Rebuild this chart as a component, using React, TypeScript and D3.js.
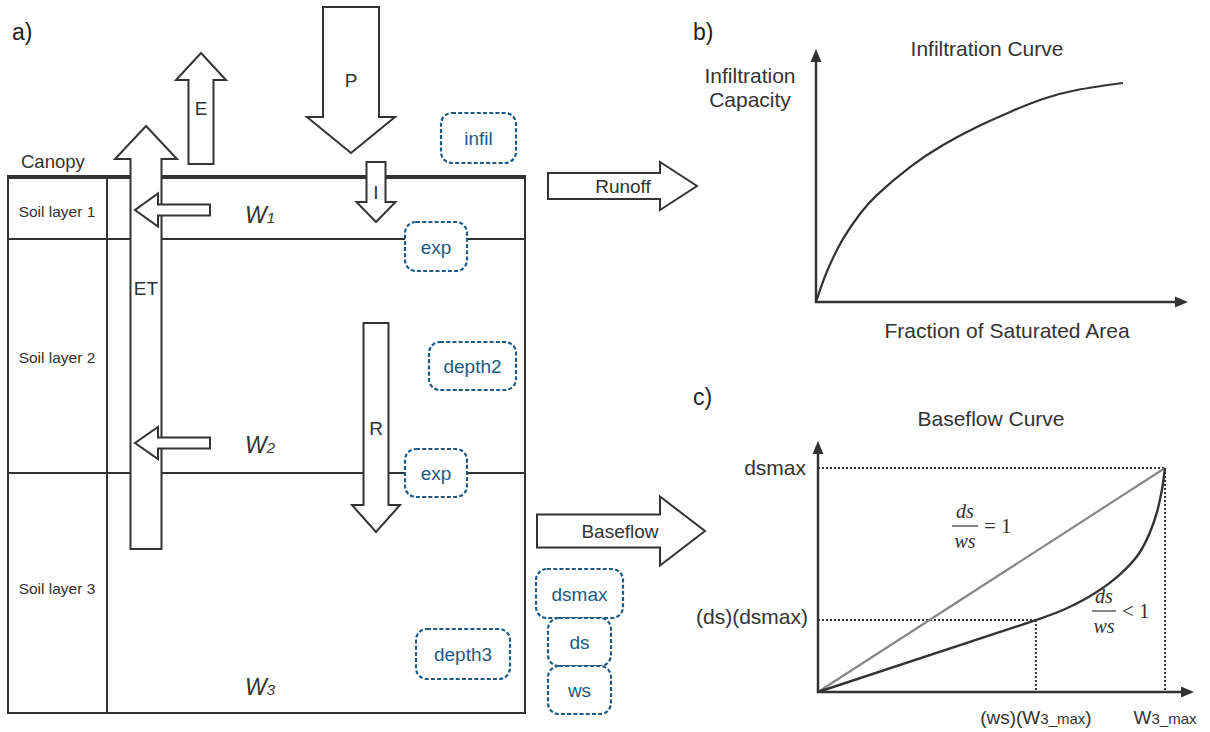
import React from "react";
import * as d3 from "d3";

// ---- Data ----
const soilLayers = ["Soil layer 1", "Soil layer 2", "Soil layer 3"];
const paramBoxes = ["infil", "exp", "depth2", "exp", "dsmax", "ds", "ws", "depth3"];
const fluxLabels = ["E", "ET", "P", "I", "R", "Runoff", "Baseflow"];

// Panel b: infiltration curve (fraction of saturated area vs infiltration capacity, normalised)
const infilFraction = [0, 0.035, 0.088, 0.143, 0.199, 0.306, 0.414, 0.524, 0.632, 0.739, 0.85, 1];
const infilCapacity = [0, 0.137, 0.288, 0.402, 0.489, 0.616, 0.717, 0.799, 0.868, 0.927, 0.968, 1];

// Panel c: baseflow curve (soil moisture W3 / W3_max vs baseflow / dsmax)
const baseflowStorage = [0.628, 0.706, 0.775, 0.841, 0.89, 0.928, 0.957, 0.977, 0.991, 1];
const baseflowRate = [0.321, 0.366, 0.42, 0.487, 0.554, 0.625, 0.714, 0.804, 0.902, 1];
const wsValue = 0.628;
const dsValue = 0.321;
const linearStorage = [0, 1];
const linearRate = [0, 1];

const INK = "#333";
const BLUE = "#1e5a84";
const SANS = "'Liberation Sans', Arial, sans-serif";
const SERIF = "'Liberation Serif', 'Times New Roman', serif";

function blockArrow(x1: number, y1: number, x2: number, y2: number, sw: number, hw: number, hl: number) {
  const len = Math.hypot(x2 - x1, y2 - y1);
  const dx = (x2 - x1) / len, dy = (y2 - y1) / len;
  const nx = -dy, ny = dx;
  const bx = x2 - dx * hl, by = y2 - dy * hl;
  const pts = [
    [x1 + nx * sw / 2, y1 + ny * sw / 2],
    [bx + nx * sw / 2, by + ny * sw / 2],
    [bx + nx * hw / 2, by + ny * hw / 2],
    [x2, y2],
    [bx - nx * hw / 2, by - ny * hw / 2],
    [bx - nx * sw / 2, by - ny * sw / 2],
    [x1 - nx * sw / 2, y1 - ny * sw / 2],
  ];
  return "M" + pts.map((p) => p.join(",")).join("L") + "Z";
}

const Arrow = ({ d }: { d: string }) => (
  <path d={d} fill="#fff" stroke={INK} strokeWidth={2} strokeLinejoin="miter" />
);

const ParamBox = ({ x, y, w, h, label }: { x: number; y: number; w: number; h: number; label: string }) => (
  <g>
    <rect x={x} y={y} width={w} height={h} rx={11} ry={11} fill="#fff" stroke={BLUE} strokeWidth={2.2} strokeDasharray="4 2.2" />
    <text x={x + w / 2} y={y + h / 2 + 7} textAnchor="middle" fontSize={19} fill={BLUE} fontFamily={SANS}>{label}</text>
  </g>
);

const WLabel = ({ x, y, sub }: { x: number; y: number; sub: string }) => (
  <text x={x} y={y} fontFamily={SANS} fill={INK} fontStyle="italic">
    <tspan fontSize={23}>W</tspan>
    <tspan fontSize={15}>{sub}</tspan>
  </text>
);

const AxisArrow = ({ x1, y1, x2, y2 }: { x1: number; y1: number; x2: number; y2: number }) => {
  const len = Math.hypot(x2 - x1, y2 - y1);
  const dx = (x2 - x1) / len, dy = (y2 - y1) / len;
  const nx = -dy, ny = dx;
  const hl = 13, hw = 5.5;
  const bx = x2 - dx * hl, by = y2 - dy * hl;
  return (
    <g>
      <line x1={x1} y1={y1} x2={bx} y2={by} stroke={INK} strokeWidth={2.5} />
      <path d={`M${x2},${y2}L${bx + nx * hw},${by + ny * hw}L${bx - nx * hw},${by - ny * hw}Z`} fill={INK} />
    </g>
  );
};

const Fraction = ({ cx, y, halfW, rest }: { cx: number; y: number; halfW: number; rest: string }) => (
  <g fontFamily={SERIF} fill={INK}>
    <text x={cx} y={y - 8} textAnchor="middle" fontSize={20} fontStyle="italic">ds</text>
    <line x1={cx - halfW} x2={cx + halfW} y1={y} y2={y} stroke={INK} strokeWidth={1.2} />
    <text x={cx} y={y + 22} textAnchor="middle" fontSize={20} fontStyle="italic">ws</text>
    <text x={cx + halfW + 6} y={y + 7} fontSize={21}>{rest}</text>
  </g>
);

export default function App() {
  // ---- panel b scales ----
  const bx = d3.scaleLinear().domain([0, 1]).range([816, 1123]);
  const by = d3.scaleLinear().domain([0, 1]).range([302, 83]);
  const infilLine = d3
    .line<number>()
    .x((_, i) => bx(infilFraction[i]))
    .y((d) => by(d))
    .curve(d3.curveNatural)(infilCapacity) as string;

  // ---- panel c scales ----
  const cx = d3.scaleLinear().domain([0, 1]).range([818, 1165]);
  const cy = d3.scaleLinear().domain([0, 1]).range([692, 468]);
  const linePath = d3
    .line<number>()
    .x((_, i) => cx(linearStorage[i]))
    .y((d) => cy(d))(linearRate) as string;
  const lowPath = d3
    .line<number>()
    .x((d) => cx(d))
    .y((_, i) => cy([0, dsValue][i]))([0, wsValue]) as string;
  const highPath = d3
    .line<number>()
    .x((_, i) => cx(baseflowStorage[i]))
    .y((d) => cy(d))
    .curve(d3.curveCatmullRom.alpha(0.5))(baseflowRate) as string;

  const [eL, etL, pL, iL, rL, runoffL, baseflowL] = fluxLabels;
  const FL = 19;

  return (
    <svg width={1210} height={732} style={{ position: "absolute", left: 0, top: 0, background: "#fff" }} fontFamily={SANS}>
      <rect width={1210} height={732} fill="#fff" />

      {/* ---------- Panel a ---------- */}
      <text x={12} y={40} fontSize={23} fill="#222">a)</text>
      <text x={21} y={168} fontSize={18.5} fill={INK}>Canopy</text>

      {/* soil column */}
      <rect x={8} y={177} width={517} height={536} fill="none" stroke={INK} strokeWidth={2} />
      <line x1={7} x2={526} y1={177} y2={177} stroke={INK} strokeWidth={4} />
      <line x1={107} x2={107} y1={177} y2={713} stroke={INK} strokeWidth={2} />
      <line x1={8} x2={525} y1={239} y2={239} stroke={INK} strokeWidth={2} />
      <line x1={8} x2={525} y1={473} y2={473} stroke={INK} strokeWidth={2} />
      {soilLayers.map((s, i) => (
        <text key={s} x={57} y={[216.5, 362.5, 593.5][i]} textAnchor="middle" fontSize={15.5} fill={INK}>{s}</text>
      ))}

      {/* flux arrows */}
      <Arrow d={blockArrow(201, 164, 201, 53, 25, 50, 27)} />
      <text x={201} y={115} textAnchor="middle" fontSize={FL} fill={INK}>{eL}</text>
      <Arrow d={blockArrow(351, 7, 351, 153, 56, 88, 36)} />
      <text x={351} y={87} textAnchor="middle" fontSize={FL} fill={INK}>{pL}</text>
      <Arrow d={blockArrow(146, 549, 146, 126, 31, 62, 33)} />
      <text x={146} y={295} textAnchor="middle" fontSize={FL} fill={INK}>{etL}</text>
      <Arrow d={blockArrow(210, 210, 135, 210, 11, 33, 23)} />
      <Arrow d={blockArrow(210, 443, 135, 443, 11, 32, 23)} />
      <Arrow d={blockArrow(376, 162, 376, 222, 19, 39, 20)} />
      <text x={376} y={199} textAnchor="middle" fontSize={FL} fill={INK}>{iL}</text>
      <Arrow d={blockArrow(376, 323, 376, 532, 25, 48, 27)} />
      <text x={376} y={435} textAnchor="middle" fontSize={FL} fill={INK}>{rL}</text>
      <Arrow d={blockArrow(548, 186, 697, 186, 26, 48, 37)} />
      <text x={623} y={193} textAnchor="middle" fontSize={FL} fill={INK}>{runoffL}</text>
      <Arrow d={blockArrow(537, 531, 705, 531, 33, 69, 45)} />
      <text x={620} y={538} textAnchor="middle" fontSize={FL} fill={INK}>{baseflowL}</text>

      {/* storage labels */}
      <WLabel x={245} y={223} sub="1" />
      <WLabel x={245} y={453} sub="2" />
      <WLabel x={245} y={695} sub="3" />

      {/* parameter boxes */}
      <ParamBox x={441} y={113} w={75} h={50} label={paramBoxes[0]} />
      <ParamBox x={405} y={222} w={62} h={49} label={paramBoxes[1]} />
      <ParamBox x={429} y={342} w={87} h={48} label={paramBoxes[2]} />
      <ParamBox x={405} y={449} w={62} h={48} label={paramBoxes[3]} />
      <ParamBox x={536} y={569} w={87} h={49} label={paramBoxes[4]} />
      <ParamBox x={548} y={618} w={63} h={48} label={paramBoxes[5]} />
      <ParamBox x={548} y={666} w={63} h={48} label={paramBoxes[6]} />
      <ParamBox x={416} y={629} w={94} h={50} label={paramBoxes[7]} />

      {/* ---------- Panel b ---------- */}
      <text x={693} y={40} fontSize={23} fill="#222">b)</text>
      <text x={987} y={56} textAnchor="middle" fontSize={21} fill={INK}>Infiltration Curve</text>
      <text x={750} y={83} textAnchor="middle" fontSize={21} fill={INK}>Infiltration</text>
      <text x={750} y={107} textAnchor="middle" fontSize={21} fill={INK}>Capacity</text>
      <text x={1007} y={338} textAnchor="middle" fontSize={21} fill={INK}>Fraction of Saturated Area</text>
      <AxisArrow x1={bx(0)} y1={by(0) + 1} x2={bx(0)} y2={49} />
      <AxisArrow x1={bx(0) - 1} y1={by(0)} x2={1188} y2={by(0)} />
      <path d={infilLine} fill="none" stroke={INK} strokeWidth={2.2} />

      {/* ---------- Panel c ---------- */}
      <text x={693} y={405} fontSize={23} fill="#222">c)</text>
      <text x={991} y={426} textAnchor="middle" fontSize={21} fill={INK}>Baseflow Curve</text>
      {/* reference dotted lines */}
      <g stroke={INK} strokeWidth={2} strokeDasharray="2 2" fill="none">
        <line x1={cx(0)} x2={cx(1)} y1={cy(1)} y2={cy(1)} />
        <line x1={cx(1)} x2={cx(1)} y1={cy(1)} y2={cy(0)} />
        <line x1={cx(0)} x2={cx(wsValue)} y1={cy(dsValue)} y2={cy(dsValue)} />
        <line x1={cx(wsValue)} x2={cx(wsValue)} y1={cy(dsValue)} y2={cy(0)} />
      </g>
      <path d={linePath} fill="none" stroke="#888" strokeWidth={2.2} />
      <path d={lowPath} fill="none" stroke={INK} strokeWidth={2.4} />
      <path d={highPath} fill="none" stroke={INK} strokeWidth={2.4} />
      <AxisArrow x1={cx(0)} y1={cy(0) + 1} x2={cx(0)} y2={441} />
      <AxisArrow x1={cx(0) - 1} y1={cy(0)} x2={1194} y2={cy(0)} />

      <text x={806} y={475} textAnchor="end" fontSize={21} fill={INK}>dsmax</text>
      <text x={808} y={624} textAnchor="end" fontSize={21} fill={INK}>(ds)(dsmax)</text>
      <text x={cx(wsValue)} y={724} textAnchor="middle" fontSize={19} fill={INK}>
        (ws)(W<tspan fontSize={15}>3_max</tspan>)
      </text>
      <text x={cx(1)} y={724} textAnchor="middle" fontSize={19} fill={INK}>
        W<tspan fontSize={15}>3_max</tspan>
      </text>

      <Fraction cx={965} y={526} halfW={13} rest="= 1" />
      <Fraction cx={1104} y={611} halfW={12} rest="< 1" />
    </svg>
  );
}
